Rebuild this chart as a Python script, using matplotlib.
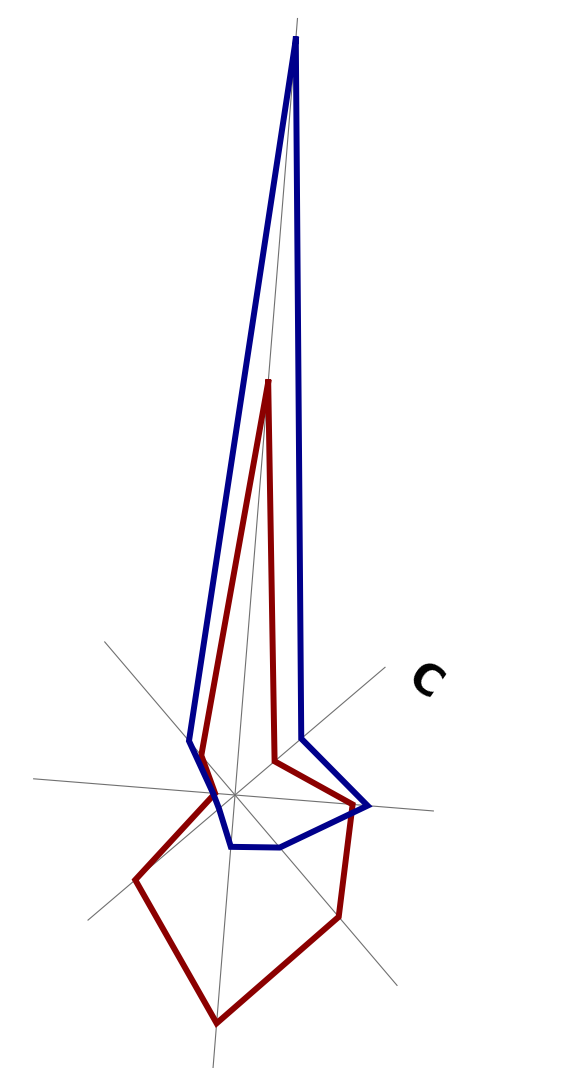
import numpy as np
import matplotlib
matplotlib.use('Agg')
import matplotlib.pyplot as plt

# Radar chart, 8 axes, drawn slightly rotated (first axis at ~85 deg)
categories = ['A', 'B', 'C', 'D', 'E', 'F', 'G', 'H']
axis_len = [779, 197, 199, 250, 300, 193, 202, 201]   # length of each grey spoke
blue_vals = [758, 87, 133, 69, 52, 21, 22, 71]
red_vals = [414, 52, 118, 160, 229, 131, 20, 52]

W, H = 587, 1068
cx, cy = 235, 273      # centre of the radar, pixels from bottom-left
R = 800                # radial limit in pixels

fig = plt.figure(figsize=(W / 100, H / 100), dpi=100)
ax = fig.add_axes([(cx - R) / W, (cy - R) / H, 2 * R / W, 2 * R / H], projection='polar')
ax.set_theta_offset(np.deg2rad(85.4))
ax.set_theta_direction(-1)
ax.set_ylim(0, R)
ax.axis('off')

n = len(categories)
theta = np.arange(n) * 2 * np.pi / n

# spokes
for th, L in zip(theta, axis_len):
    ax.plot([th, th], [0, L], color='#707070', lw=0.8, zorder=1)

# series
th_closed = np.append(theta, theta[0])
ax.plot(th_closed, blue_vals + blue_vals[:1], color='#00008B', lw=4.3,
        solid_joinstyle='miter', zorder=3)
ax.plot(th_closed, red_vals + red_vals[:1], color='#8B0000', lw=4.3,
        solid_joinstyle='miter', zorder=2)

# the only visible axis label
fig.text(425 / W, (H - 683) / H, 'C', fontsize=30, fontweight='bold',
         rotation=-35, ha='center', va='center', color='black')

fig.savefig('out.png', dpi=100, facecolor='white')
